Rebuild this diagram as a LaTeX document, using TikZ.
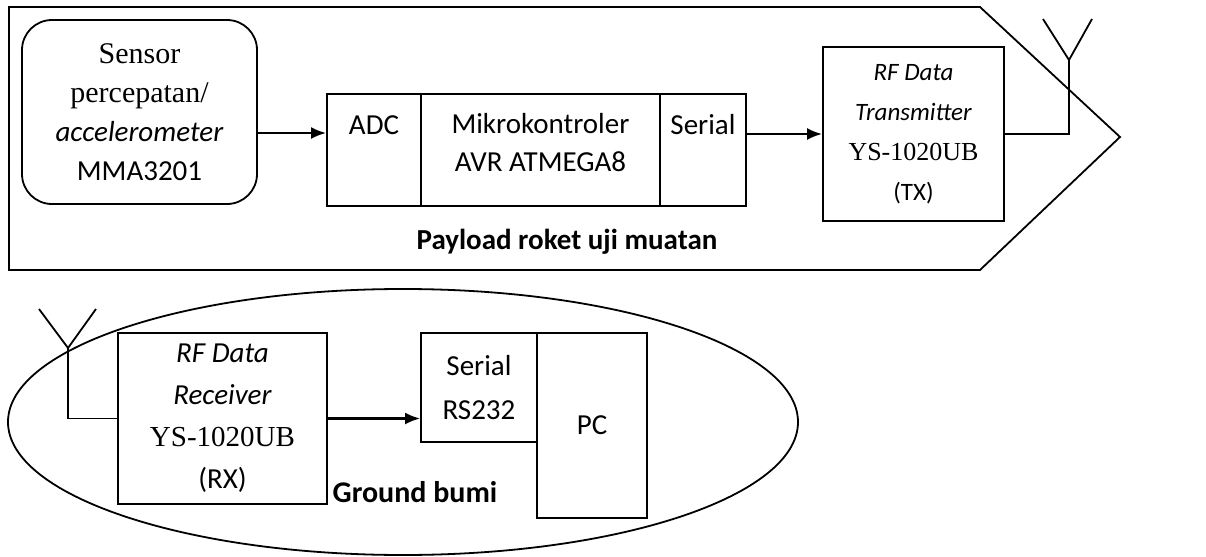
\documentclass[tikz,border=0pt]{standalone}
\usepackage{fontspec}
\setmainfont{Liberation Serif}
\newfontfamily\calibri{Carlito}
\usepackage{tikz}
\usetikzlibrary{arrows.meta}
\usetikzlibrary{shapes}

\begin{document}
\begin{tikzpicture}[x=0.5pt,y=-0.5pt,line width=0.9pt,
    box/.style={draw,rectangle,inner sep=0pt},
    sans/.style={font=\calibri\fontsize{14.5}{19}\selectfont},
    bold/.style={font=\calibri\bfseries\fontsize{14.5}{18}\selectfont},
    link/.style={-{Latex[length=7.5pt,width=6pt]},line width=1.1pt}]
        \useasboundingbox (0,0) rectangle (1206,557);

        % Draw the payload outline (rocket shape)
        \draw (9,7) -- (980,7) -- (1120,137) -- (980,270) -- (9,270) -- cycle;

        % Sensor box with rounded corners
        \node[box, rounded corners=15pt, minimum width=117.5pt, minimum height=92pt, align=center,
              font=\calibri\fontsize{14.5}{19.5}\selectfont] (sensor) at (139.5,112)
            {{\rmfamily\fontsize{15}{19.5}\selectfont Sensor}\\{\rmfamily\fontsize{15}{19.5}\selectfont percepatan/}\\\textit{accelerometer}\\MMA3201};

        % Microcontroller split into three parts
        \node[box, minimum width=47pt, minimum height=56pt] (adc) at (374,150) {};
        \node[box, minimum width=119.5pt, minimum height=56pt] (mcu) at (540.5,150) {};
        \node[box, minimum width=43pt, minimum height=56pt] (ser) at (703,150) {};
        \node[sans] (adctext) at (374,125) {ADC};
        \node[sans, align=center] (mcutext) at (540.5,143) {Mikrokontroler\\AVR ATMEGA8};
        \node[sans] (sertext) at (703,125) {Serial};

        % Transmitter
        \node[box, minimum width=90.5pt, minimum height=87pt, align=center,
              font=\calibri\fontsize{12.5}{20}\selectfont] (tx) at (913.5,134)
            {\textit{RF Data}\\\textit{Transmitter}\\{\rmfamily\fontsize{13}{20}\selectfont YS-1020UB}\\(TX)};

        % Transmitter antenna
        \coordinate (txant) at (1069,60);
        \draw (tx.east) -- (tx.east -| txant) -- (txant);
        \draw (1043,19) -- (txant) -- (1092,19);

        % Arrows in the payload
        \draw[link] ([yshift=-10.5pt]sensor.east) -- ([yshift=-10.5pt]sensor.east -| adc.west);
        \draw[link] (ser.east |- tx.west) -- (tx.west);

        \node[bold] (payload) at (567,242) {Payload roket uji muatan};

        % Draw the ground station outline
        \draw (403,422) ellipse [x radius=197.5pt, y radius=66.5pt];

        % Receiver
        \node[box, minimum width=104.5pt, minimum height=85.5pt, align=center,
              font=\calibri\fontsize{14.5}{21}\selectfont] (rx) at (222.5,418.5)
            {\textit{RF Data}\\\textit{Receiver}\\{\rmfamily YS-1020UB}\\(RX)};

        % Receiver antenna
        \coordinate (rxant) at (68,348);
        \draw (rx.west) -- (rx.west -| rxant) -- (rxant);
        \draw (39,309) -- (rxant) -- (96,309);

        % Serial port and PC
        \node[box, minimum width=58pt, minimum height=54.5pt, align=center,
              font=\calibri\fontsize{14.5}{22}\selectfont] (rs) at (479,387.5) {Serial\\RS232};
        \node[box, minimum width=55pt, minimum height=92.5pt, sans] (pc) at (592,425.5) {PC};

        % Arrow from receiver to serial port
        \draw[link] (rx.east) -- (rx.east -| rs.west);

        \node[font=\calibri\bfseries\fontsize{15}{18}\selectfont] (ground) at (415,492) {Ground bumi};
    \end{tikzpicture}
\end{document}
